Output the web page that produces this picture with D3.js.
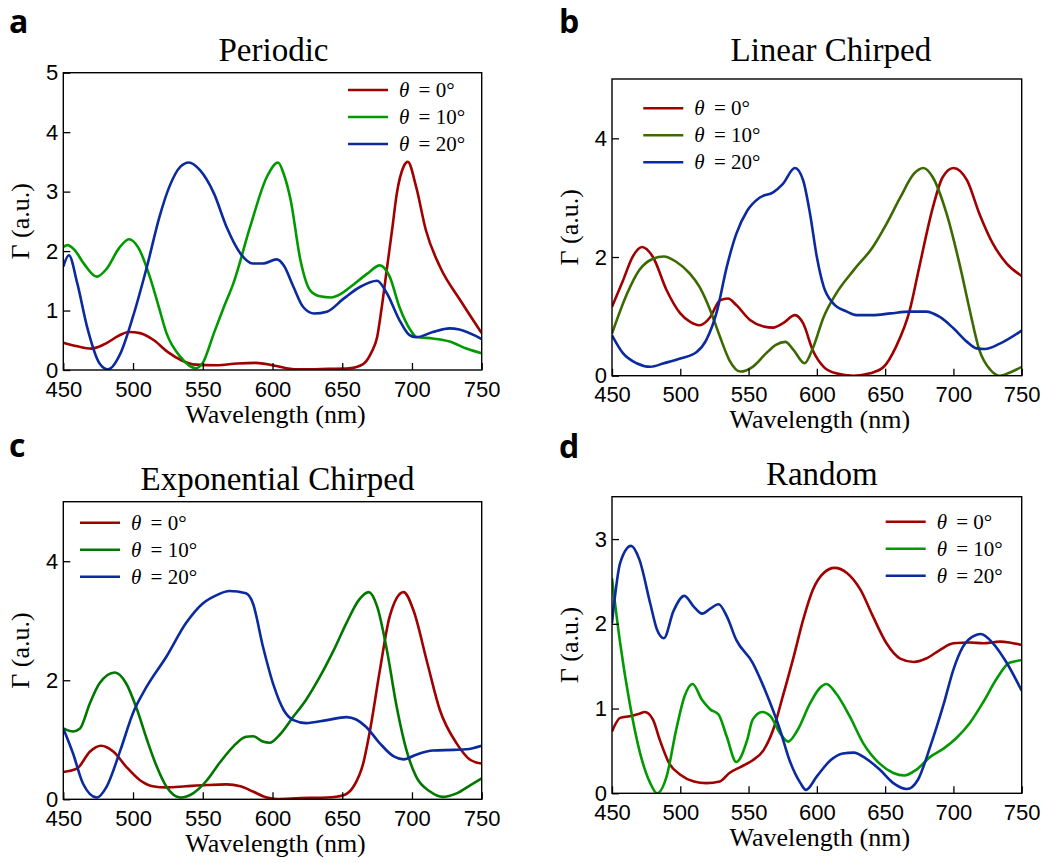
<!DOCTYPE html>
<html>
<head>
<meta charset="utf-8">
<script src="https://cdn.jsdelivr.net/npm/d3@7"></script>
<style>
  body { margin: 0; background: #fff; }
  svg { display: block; }
</style>
</head>
<body>
<div id="chart"></div>
<script>
'use strict'

// Γ spectra, [wavelength nm, value]
const periodic0 = [[450,0.46],[460,0.40],[470,0.36],[480,0.44],[490,0.58],[497,0.64],[505,0.62],[515,0.50],[525,0.30],[535,0.16],[545,0.09],[560,0.08],[575,0.11],[588,0.12],[600,0.08],[610,0.03],[620,0.01],[640,0.02],[655,0.03],[665,0.10],[671,0.3],[675,0.55],[678,1.0],[682,1.7],[686,2.4],[689,2.95],[694,3.42],[697,3.5],[703,3.08],[710,2.35],[720,1.74],[735,1.16],[750,0.62]]
const periodic10 = [[450,2.07],[453,2.1],[458,2.02],[465,1.78],[474,1.57],[481,1.7],[490,2.05],[497,2.2],[504,2.05],[512,1.57],[518,1.1],[524,0.62],[534,0.22],[545,0.03],[550,0.12],[558,0.62],[565,1.05],[572,1.46],[584,2.41],[596,3.25],[604,3.49],[608,3.3],[613,2.86],[620,1.85],[627,1.34],[634,1.24],[642,1.22],[649,1.28],[656,1.4],[668,1.62],[677,1.76],[684,1.57],[691,1.06],[699,0.67],[703,0.56],[715,0.53],[727,0.48],[739,0.36],[750,0.28]]
const periodic20 = [[450,1.74],[454,1.93],[460,1.46],[467,0.73],[476,0.11],[482,0.01],[491,0.28],[500,0.9],[510,1.74],[519,2.58],[526,3.08],[534,3.42],[540,3.49],[548,3.36],[558,2.97],[567,2.41],[577,1.96],[586,1.79],[593,1.79],[603,1.86],[608,1.76],[615,1.4],[622,1.06],[630,0.95],[639,0.98],[651,1.2],[663,1.4],[675,1.5],[682,1.29],[691,0.84],[698,0.59],[703,0.55],[715,0.64],[727,0.7],[734,0.68],[750,0.52]]

const linear0 = [[450,1.16],[458,1.6],[465,2.0],[472,2.17],[480,2.0],[490,1.44],[500,1.05],[507,0.91],[514,0.85],[522,0.99],[529,1.27],[535,1.3],[541,1.19],[551,0.94],[561,0.83],[568,0.81],[575,0.88],[584,1.02],[590,0.88],[597,0.43],[605,0.15],[614,0.04],[627,0],[639,0.04],[649,0.15],[658,0.49],[668,1.1],[675,1.83],[685,2.84],[692,3.34],[700,3.5],[710,3.29],[719,2.73],[729,2.22],[739,1.89],[750,1.68]]
const linear10 = [[450,0.71],[461,1.38],[470,1.78],[480,1.97],[488,2.01],[497,1.92],[507,1.72],[514,1.5],[522,1.1],[529,0.66],[536,0.26],[544,0.07],[553,0.15],[563,0.38],[570,0.52],[577,0.57],[583,0.43],[591,0.21],[597,0.46],[605,0.99],[614,1.38],[627,1.78],[641,2.17],[651,2.56],[661,3.0],[671,3.4],[678,3.5],[685,3.34],[695,2.73],[705,1.83],[712,1.1],[719,0.43],[727,0.1],[734,0],[741,0.05],[750,0.15]]
const linear20 = [[450,0.68],[458,0.38],[468,0.21],[478,0.15],[488,0.21],[500,0.29],[512,0.4],[519,0.6],[527,1.1],[534,1.83],[541,2.39],[549,2.78],[558,3.0],[568,3.09],[575,3.23],[584,3.5],[590,3.29],[595,2.73],[600,2.0],[605,1.5],[612,1.22],[622,1.08],[629,1.02],[641,1.02],[654,1.05],[668,1.08],[680,1.08],[690,0.99],[700,0.8],[710,0.57],[717,0.46],[723,0.45],[734,0.54],[750,0.76]]

const expo0 = [[450,0.46],[460,0.52],[469,0.8],[477,0.9],[486,0.8],[495,0.55],[505,0.32],[514,0.22],[524,0.2],[538,0.22],[553,0.24],[567,0.25],[577,0.22],[586,0.13],[596,0.03],[603,0.005],[620,0.02],[639,0.03],[651,0.07],[658,0.21],[665,0.6],[670,1.17],[677,2.17],[684,3.07],[694,3.48],[701,3.18],[711,2.29],[720,1.5],[732,0.94],[742,0.66],[750,0.6]]
const expo10 = [[450,1.19],[457,1.14],[462,1.19],[469,1.61],[476,1.95],[487,2.13],[495,1.95],[503,1.5],[510,1.0],[517,0.55],[524,0.21],[534,0.03],[543,0.1],[553,0.32],[562,0.61],[572,0.89],[581,1.05],[586,1.06],[593,0.97],[598,0.95],[605,1.08],[615,1.39],[624,1.67],[634,2.06],[644,2.51],[653,2.96],[662,3.35],[669,3.48],[675,3.24],[682,2.51],[689,1.56],[696,0.83],[703,0.38],[713,0.13],[722,0.04],[732,0.1],[742,0.24],[750,0.35]]
const expo20 = [[450,1.19],[457,0.77],[464,0.27],[474,0.03],[481,0.21],[491,0.83],[500,1.45],[510,1.9],[524,2.4],[538,2.96],[550,3.29],[560,3.43],[569,3.5],[581,3.46],[586,3.29],[593,2.58],[601,1.9],[608,1.5],[615,1.33],[624,1.28],[639,1.33],[653,1.38],[660,1.34],[667,1.22],[677,0.94],[687,0.72],[694,0.67],[703,0.75],[715,0.82],[730,0.83],[739,0.84],[750,0.9]]

const random0 = [[450,0.73],[456,0.89],[463,0.91],[470,0.94],[474,0.96],[480,0.87],[485,0.63],[492,0.35],[500,0.22],[510,0.14],[519,0.12],[529,0.14],[536,0.24],[544,0.31],[553,0.39],[561,0.51],[568,0.75],[575,1.14],[583,1.61],[590,2.05],[597,2.4],[605,2.6],[613,2.66],[622,2.6],[632,2.4],[641,2.09],[651,1.77],[661,1.59],[671,1.55],[680,1.59],[690,1.69],[700,1.77],[712,1.78],[722,1.77],[734,1.79],[741,1.78],[750,1.75]]
const random10 = [[450,2.54],[456,1.77],[463,1.06],[470,0.51],[478,0.12],[483,0],[490,0.2],[497,0.75],[503,1.14],[509,1.29],[516,1.1],[522,0.99],[528,0.93],[534,0.67],[541,0.37],[549,0.63],[553,0.87],[560,0.96],[566,0.91],[573,0.71],[579,0.61],[586,0.75],[595,1.06],[602,1.24],[607,1.29],[614,1.18],[624,0.91],[634,0.59],[646,0.35],[656,0.24],[664,0.21],[673,0.28],[683,0.43],[693,0.53],[702,0.65],[712,0.83],[722,1.08],[732,1.36],[741,1.54],[750,1.57]]
const random20 = [[450,2.01],[456,2.72],[464,2.92],[470,2.76],[478,2.24],[483,1.93],[488,1.83],[495,2.15],[503,2.33],[510,2.2],[516,2.12],[522,2.18],[528,2.23],[534,2.09],[541,1.81],[553,1.54],[563,1.18],[573,0.75],[580,0.39],[588,0.12],[592,0.04],[600,0.2],[610,0.39],[619,0.47],[627,0.48],[636,0.41],[646,0.28],[656,0.12],[666,0.05],[674,0.16],[683,0.55],[693,1.06],[700,1.46],[707,1.73],[717,1.87],[720,1.88],[729,1.77],[739,1.54],[750,1.21]]

const xTicks = [450, 500, 550, 600, 650, 700, 750]
const seriesLabels = ['0°', '10°', '20°']

const red = '#a00000'
const blue = '#0a2a9e'

const panels = [
  {tag: 'a', title: 'Periodic', series: [periodic0, periodic10, periodic20],
    colors: [red, '#009a00', blue], yMax: 5, yTicks: [0, 1, 2, 3, 4, 5],
    box: [63.3, 72.7, 481.7, 370], tagPos: [9, 33], titleDx: 1, legend: [348, 90]},
  {tag: 'b', title: 'Linear Chirped', series: [linear0, linear10, linear20],
    colors: [red, '#3c6a00', blue], yMax: 5, yTicks: [0, 2, 4],
    box: [612, 79, 1021.7, 375.7], tagPos: [559, 33], titleDx: 14, legend: [643.3, 108.3]},
  {tag: 'c', title: 'Exponential Chirped', series: [expo0, expo10, expo20],
    colors: [red, '#007800', blue], yMax: 5, yTicks: [0, 2, 4],
    box: [63.3, 501.7, 481.7, 799.3], tagPos: [9, 457], titleDx: 5, legend: [80, 522.7]},
  {tag: 'd', title: 'Random', series: [random0, random10, random20],
    colors: [red, '#009a00', blue], yMax: 3.5, yTicks: [0, 1, 2, 3],
    box: [612, 496.7, 1021.7, 793.3], tagPos: [559, 458], titleDx: 5, legend: [885.7, 521.7]},
]

const serif = '"Liberation Serif", "Times New Roman", serif'
const sans = '"Liberation Sans", Arial, sans-serif'

const svg = d3.select('#chart').append('svg')
  .attr('width', 1053)
  .attr('height', 863)
  .style('background', '#fff')

panels.forEach((p) => {
  const [x0, y0, x1, y1] = p.box
  const x = d3.scaleLinear().domain([450, 750]).range([x0, x1])
  const y = d3.scaleLinear().domain([0, p.yMax]).range([y1, y0])

  const g = svg.append('g')

  // curves
  const line = d3.line()
    .x((d) => x(d[0]))
    .y((d) => y(d[1]))
    .curve(d3.curveMonotoneX)

  g.append('clipPath').attr('id', 'clip-' + p.tag)
    .append('rect')
    .attr('x', x0).attr('y', y0 - 2)
    .attr('width', x1 - x0).attr('height', y1 - y0 + 2)

  p.series.forEach((s, i) => {
    g.append('path')
      .datum(s)
      .attr('clip-path', 'url(#clip-' + p.tag + ')')
      .attr('fill', 'none')
      .attr('stroke', p.colors[i])
      .attr('stroke-width', 2.6)
      .attr('stroke-linejoin', 'round')
      .attr('d', line)
  })

  // axes with inward ticks
  const xAxis = d3.axisBottom(x).tickValues(xTicks).tickSize(-7).tickPadding(11).tickFormat(d3.format('d'))
  const yAxis = d3.axisLeft(y).tickValues(p.yTicks).tickSize(-7).tickPadding(5).tickFormat(d3.format('d'))

  const gx = g.append('g').attr('transform', 'translate(0,' + y1 + ')').call(xAxis)
  const gy = g.append('g').attr('transform', 'translate(' + x0 + ',0)').call(yAxis)
  ;[gx, gy].forEach((a) => {
    a.select('.domain').remove()
    a.selectAll('.tick line').attr('stroke', '#000').attr('stroke-width', 1.3)
    a.selectAll('.tick text')
      .attr('fill', '#000')
      .style('font-family', sans)
      .style('font-size', '22px')
  })

  // frame
  g.append('rect')
    .attr('x', x0).attr('y', y0)
    .attr('width', x1 - x0).attr('height', y1 - y0)
    .attr('fill', 'none')
    .attr('stroke', '#000')
    .attr('stroke-width', 1.4)

  // titles and labels
  g.append('text')
    .attr('x', (x0 + x1) / 2 + p.titleDx)
    .attr('y', y0 - (p.tag === 'b' ? 18 : 12))
    .attr('text-anchor', 'middle')
    .style('font-family', serif)
    .style('font-size', '33px')
    .text(p.title)

  g.append('text')
    .attr('x', (x0 + x1) / 2 + 3)
    .attr('y', y1 + 52.5)
    .attr('text-anchor', 'middle')
    .style('font-family', serif)
    .style('font-size', '26px')
    .text('Wavelength (nm)')

  g.append('text')
    .attr('transform', 'translate(' + (x0 - 34) + ',' + ((y0 + y1) / 2) + ')rotate(-90)')
    .attr('text-anchor', 'middle')
    .style('font-family', serif)
    .style('font-size', '26px')
    .text('Γ (a.u.)')

  g.append('text')
    .attr('x', p.tagPos[0])
    .attr('y', p.tagPos[1])
    .style('font-family', '"Open Sans", "DejaVu Sans", sans-serif')
    .style('font-weight', 'bold')
    .style('font-size', '32px')
    .text(p.tag)

  // legend
  const [lx, ly] = p.legend
  seriesLabels.forEach((lab, i) => {
    const yy = ly + i * 27
    g.append('line')
      .attr('x1', lx).attr('x2', lx + 40)
      .attr('y1', yy).attr('y2', yy)
      .attr('stroke', p.colors[i])
      .attr('stroke-width', 2.6)
    const t = g.append('text')
      .attr('x', lx + 51)
      .attr('y', yy + 7)
      .style('font-family', serif)
      .style('font-size', '21px')
    t.append('tspan').style('font-style', 'italic').text('θ')
    t.append('tspan').attr('dx', 4).text(' = ' + lab)
  })
})
</script>
</body>
</html>
